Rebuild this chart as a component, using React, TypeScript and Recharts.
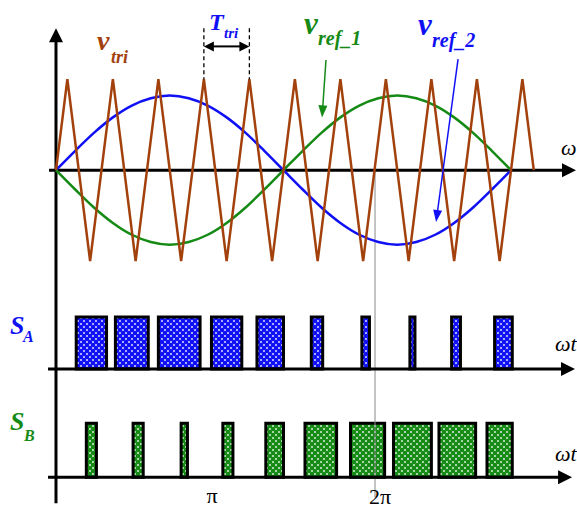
import React from "react";
import { ComposedChart, Line, XAxis, YAxis, ReferenceLine, ReferenceArea } from "recharts";

// angle axis in degrees (360 = one reference period)
const TRI_X = [0, 9, 27, 45, 63, 81, 99, 117, 135, 153, 171, 189, 207, 225, 243, 261, 279, 297, 315, 333, 351, 369, 378];
const TRI_V = [0, 1, -1, 1, -1, 1, -1, 1, -1, 1, -1, 1, -1, 1, -1, 1, -1, 1, -1, 1, -1, 1, 0];

const REF_X = [0, 15, 30, 45, 60, 75, 90, 105, 120, 135, 150, 165, 180, 195, 210, 225, 240, 255, 270, 285, 300, 315, 330, 345, 360];
const REF2_V = [0, 0.21, 0.41, 0.58, 0.71, 0.79, 0.82, 0.79, 0.71, 0.58, 0.41, 0.21, 0, -0.21, -0.41, -0.58, -0.71, -0.79, -0.82, -0.79, -0.71, -0.58, -0.41, -0.21, 0];
const REF1_V = [0, -0.21, -0.41, -0.58, -0.71, -0.79, -0.82, -0.79, -0.71, -0.58, -0.41, -0.21, 0, 0.21, 0.41, 0.58, 0.71, 0.79, 0.82, 0.79, 0.71, 0.58, 0.41, 0.21, 0];

const SA_START = [16, 47, 81, 123, 159, 202, 242, 280, 313, 347];
const SA_END = [40, 73, 114, 147, 180, 211, 248, 284, 320, 361];
const SB_START = [24, 61, 99, 132, 166, 197, 233, 267, 303, 341];
const SB_END = [32, 69, 104, 140, 180, 222, 260, 297, 332, 361];

const GRID_X = 252.4;

const BROWN = "#a3410c";
const BLUE = "#1010f5";
const GREEN = "#158a15";

const triData = TRI_X.map((x, i) => ({ x, v: TRI_V[i] }));
const ref1Data = REF_X.map((x, i) => ({ x, v: REF1_V[i] }));
const ref2Data = REF_X.map((x, i) => ({ x, v: REF2_V[i] }));

function arrowShape(head: number, half: number, both = false) {
  return (p: any) => {
    const { x1, y1, x2, y2, stroke, strokeWidth, strokeDasharray } = p;
    const a = Math.atan2(y2 - y1, x2 - x1);
    const c = Math.cos(a);
    const s = Math.sin(a);
    const tri = (tx: number, ty: number, dir: number) => {
      const bx = tx - dir * head * c;
      const by = ty - dir * head * s;
      return `${tx},${ty} ${bx - half * s},${by + half * c} ${bx + half * s},${by - half * c}`;
    };
    const sx = both ? x1 + head * c * 0.8 : x1;
    const sy = both ? y1 + head * s * 0.8 : y1;
    return (
      <g>
        <line x1={sx} y1={sy} x2={x2 - head * c * 0.8} y2={y2 - head * s * 0.8} stroke={stroke} strokeWidth={strokeWidth} strokeDasharray={strokeDasharray} />
        <polygon points={tri(x2, y2, 1)} fill={stroke} />
        {both && <polygon points={tri(x1, y1, -1)} fill={stroke} />}
      </g>
    );
  };
}

const serif = "'Liberation Serif', 'Times New Roman', serif";

export default function App() {
  return (
    <div style={{ position: "absolute", left: 0, top: 0, width: 577, height: 515, background: "#fff" }}>
      <ComposedChart width={577} height={515} margin={{ top: 0, right: 0, bottom: 0, left: 0 }}>
        <defs>
          <pattern id="dotsBlue" width="6" height="6" patternUnits="userSpaceOnUse">
            <rect width="6" height="6" fill="#dcdcff" />
            <circle cx="0" cy="0" r="2.3" fill={BLUE} />
            <circle cx="6" cy="0" r="2.3" fill={BLUE} />
            <circle cx="0" cy="6" r="2.3" fill={BLUE} />
            <circle cx="6" cy="6" r="2.3" fill={BLUE} />
            <circle cx="3" cy="3" r="2.3" fill={BLUE} />
          </pattern>
          <pattern id="dotsGreen" width="6" height="6" patternUnits="userSpaceOnUse">
            <rect width="6" height="6" fill="#d6f0d6" />
            <circle cx="0" cy="0" r="2.3" fill={GREEN} />
            <circle cx="6" cy="0" r="2.3" fill={GREEN} />
            <circle cx="0" cy="6" r="2.3" fill={GREEN} />
            <circle cx="6" cy="6" r="2.3" fill={GREEN} />
            <circle cx="3" cy="3" r="2.3" fill={GREEN} />
          </pattern>
        </defs>
        <XAxis type="number" dataKey="x" domain={[-44.3, 412.2]} hide allowDataOverflow />
        <YAxis yAxisId="w" type="number" domain={[-3.79, 1.87]} hide allowDataOverflow />
        <YAxis yAxisId="a" type="number" domain={[-2.81, 7.1]} hide allowDataOverflow />
        <YAxis yAxisId="b" type="number" domain={[-0.7, 8.83]} hide allowDataOverflow />

        {/* thin marker line at the 2π tick */}
        <ReferenceLine yAxisId="w" ifOverflow="visible" segment={[{ x: GRID_X, y: 0 }, { x: GRID_X, y: -3.6 }]} stroke="#8a8a8a" strokeWidth={1} />

        {/* switching pulses */}
        {SA_START.map((s, i) => (
          <ReferenceArea key={`a${i}`} yAxisId="a" ifOverflow="visible" x1={s} x2={SA_END[i]} y1={0} y2={1} fill="url(#dotsBlue)" fillOpacity={1} stroke="#000" strokeWidth={3} />
        ))}
        {SB_START.map((s, i) => (
          <ReferenceArea key={`b${i}`} yAxisId="b" ifOverflow="visible" x1={s} x2={SB_END[i]} y1={0} y2={1} fill="url(#dotsGreen)" fillOpacity={1} stroke="#000" strokeWidth={3} />
        ))}

        {/* axes with arrow heads */}
        <ReferenceLine yAxisId="w" ifOverflow="visible" segment={[{ x: 0, y: -3.66 }, { x: 0, y: 1.56 }]} stroke="#000" strokeWidth={3} shape={arrowShape(14, 7)} />
        <ReferenceLine yAxisId="w" ifOverflow="visible" segment={[{ x: -5.5, y: 0 }, { x: 411.4, y: 0 }]} stroke="#000" strokeWidth={3} shape={arrowShape(14, 7)} />
        <ReferenceLine yAxisId="a" ifOverflow="visible" segment={[{ x: -6.3, y: 0 }, { x: 410.6, y: 0 }]} stroke="#000" strokeWidth={3} shape={arrowShape(14, 7)} />
        <ReferenceLine yAxisId="b" ifOverflow="visible" segment={[{ x: -6.3, y: 0 }, { x: 408.3, y: 0 }]} stroke="#000" strokeWidth={3} shape={arrowShape(14, 7)} />

        <Line yAxisId="w" data={ref2Data} dataKey="v" type="monotone" stroke={BLUE} strokeWidth={2.5} dot={false} activeDot={false} isAnimationActive={false} />
        <Line yAxisId="w" data={ref1Data} dataKey="v" type="monotone" stroke={GREEN} strokeWidth={2.5} dot={false} activeDot={false} isAnimationActive={false} />
        <Line yAxisId="w" data={triData} dataKey="v" type="linear" stroke={BROWN} strokeWidth={2.5} dot={false} activeDot={false} isAnimationActive={false} />

        {/* T_tri dimension */}
        <ReferenceLine yAxisId="w" ifOverflow="visible" segment={[{ x: 117, y: 1.56 }, { x: 117, y: 1 }]} stroke="#000" strokeWidth={1.3} strokeDasharray="4 3" />
        <ReferenceLine yAxisId="w" ifOverflow="visible" segment={[{ x: 153, y: 1.56 }, { x: 153, y: 1 }]} stroke="#000" strokeWidth={1.3} strokeDasharray="4 3" />
        <ReferenceLine yAxisId="w" ifOverflow="visible" segment={[{ x: 117, y: 1.36 }, { x: 153, y: 1.36 }]} stroke="#000" strokeWidth={2} shape={arrowShape(10, 5, true)} />

        {/* pointers to the reference waves */}
        <ReferenceLine yAxisId="w" ifOverflow="visible" segment={[{ x: 213.6, y: 1.21 }, { x: 210.5, y: 0.58 }]} stroke={GREEN} strokeWidth={1.5} shape={arrowShape(12, 4.5)} />
        <ReferenceLine yAxisId="w" ifOverflow="visible" segment={[{ x: 318.1, y: 1.22 }, { x: 300.7, y: -0.57 }]} stroke={BLUE} strokeWidth={1.5} shape={arrowShape(12, 4.5)} />
      </ComposedChart>

      <svg width={577} height={515} style={{ position: "absolute", left: 0, top: 0, pointerEvents: "none" }}>
        <g fontFamily={serif} fontWeight="bold" fontStyle="italic">
          <text x={97} y={50} fontSize={28} fill={BROWN}>v</text>
          <text x={111} y={63} fontSize={18} fill={BROWN}>tri</text>

          <text x={209} y={30} fontSize={24} fill={BLUE}>T</text>
          <text x={224} y={38} fontSize={15} fill={BLUE}>tri</text>

          <text x={304} y={34} fontSize={31} fill={GREEN}>v</text>
          <text x={318} y={45} fontSize={20} fill={GREEN}>ref_1</text>

          <text x={418} y={35} fontSize={31} fill={BLUE}>v</text>
          <text x={432} y={47} fontSize={20} fill={BLUE}>ref_2</text>

          <text x={10} y={334} fontSize={26} fill={BLUE}>S</text>
          <text x={23} y={342} fontSize={16} fill={BLUE}>A</text>

          <text x={10} y={430} fontSize={26} fill={GREEN}>S</text>
          <text x={24} y={441} fontSize={16} fill={GREEN}>B</text>
        </g>
        <g fontFamily={serif} fontStyle="italic" fill="#000" fontSize={22}>
          <text x={561} y={155}>ω</text>
          <text x={555} y={351}>ωt</text>
          <text x={555} y={461}>ωt</text>
        </g>
        <g fontFamily={serif} fill="#000" fontSize={22}>
          <text x={212} y={503} textAnchor="middle">π</text>
          <text x={380} y={504} textAnchor="middle">2π</text>
        </g>
      </svg>
    </div>
  );
}
